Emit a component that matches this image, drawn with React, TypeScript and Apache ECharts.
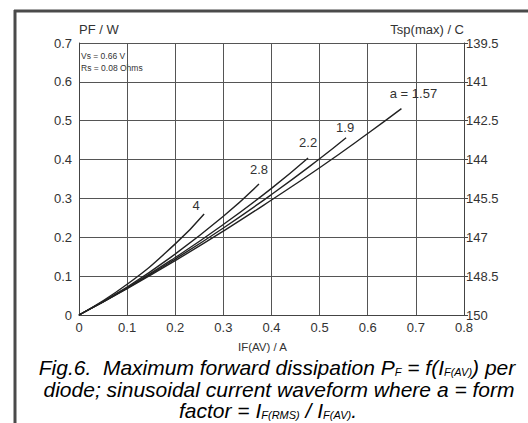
import React, { useEffect, useRef } from "react";
import * as echarts from "echarts";

// Forward current IF(AV) / A and dissipation PF / W for each form factor a
const formFactorLabels = ["a = 1.57", "1.9", "2.2", "2.8", "4"];

const if157 = [0, 0.1, 0.2, 0.3, 0.4, 0.5, 0.6, 0.67];
const pf157 = [0, 0.068, 0.14, 0.216, 0.296, 0.379, 0.467, 0.531];

const if19 = [0, 0.1, 0.2, 0.3, 0.4, 0.5, 0.555];
const pf19 = [0, 0.069, 0.144, 0.224, 0.31, 0.402, 0.456];

const if22 = [0, 0.1, 0.2, 0.3, 0.4, 0.476];
const pf22 = [0, 0.07, 0.148, 0.233, 0.326, 0.404];

const if28 = [0, 0.1, 0.2, 0.3, 0.374];
const pf28 = [0, 0.072, 0.157, 0.254, 0.337];

const if4 = [0, 0.1, 0.2, 0.26];
const pf4 = [0, 0.079, 0.183, 0.26];

// Axis ticks
const xTicks = { min: 0, max: 0.8, interval: 0.1 };
const yTicks = { min: 0, max: 0.7, interval: 0.1 };
const tspTicks = { min: 139.5, max: 150, interval: 1.5 };

const curves = [
  { x: if157, y: pf157, label: formFactorLabels[0], pos: [13, -8] },
  { x: if19, y: pf19, label: formFactorLabels[1], pos: [0, -3] },
  { x: if22, y: pf22, label: formFactorLabels[2], pos: [1, -8] },
  { x: if28, y: pf28, label: formFactorLabels[3], pos: [1, -7] },
  { x: if4, y: pf4, label: formFactorLabels[4], pos: [-7, -1] },
];

const TXT = "#333";
const FONT = "'Liberation Sans', Arial, Helvetica, sans-serif";

export default function App() {
  const ref = useRef<HTMLDivElement>(null);

  useEffect(() => {
    document.body.style.margin = "0";
    const chart = echarts.init(ref.current!, null, { renderer: "svg" });

    const series = curves.map((c) => ({
      type: "line",
      showSymbol: true,
      symbol: "circle",
      symbolSize: 1,
      itemStyle: { color: "transparent", borderColor: "transparent" },
      smooth: true,
      lineStyle: { color: "#222", width: 1.4 },
      labelLayout: { hideOverlap: false },
      data: c.x.map((xv, i) =>
        i === c.x.length - 1
          ? {
              value: [xv, c.y[i]],
              label: {
                show: true,
                position: c.pos,
                align: "center",
                verticalAlign: "bottom",
                formatter: c.label,
                color: TXT,
                fontSize: 13,
                fontFamily: FONT,
              },
            }
          : { value: [xv, c.y[i]], label: { show: false } }
      ),
    }));

    const subStyle = {
      fontSize: 11,
      fontStyle: "italic",
      fontFamily: FONT,
      color: TXT,
      lineHeight: 9,
      verticalAlign: "bottom",
    };
    const mainStyle = {
      fontSize: 21,
      fontStyle: "italic",
      fontFamily: FONT,
      color: TXT,
      lineHeight: 19,
    };

    chart.setOption({
      animation: false,
      backgroundColor: "#fff",
      textStyle: { fontFamily: FONT },
      grid: { left: 79, right: 64, top: 43, bottom: 108 },
      xAxis: {
        type: "value",
        ...xTicks,
        name: "IF(AV) / A",
        nameLocation: "middle",
        nameGap: 26,
        nameTextStyle: { color: TXT, fontSize: 11.5, padding: [0, 18, 0, 0] },
        axisLine: { show: true, lineStyle: { color: "#444", width: 1 } },
        axisTick: { show: false },
        axisLabel: { color: TXT, fontSize: 13, margin: 6 },
        splitLine: { show: true, lineStyle: { color: "#555", width: 1 } },
      },
      yAxis: [
        {
          type: "value",
          ...yTicks,
          name: "PF / W",
          nameLocation: "end",
          nameGap: 7,
          nameTextStyle: { color: TXT, fontSize: 13, align: "left" },
          axisLine: { show: true, lineStyle: { color: "#444", width: 1 } },
          axisTick: { show: false },
          axisLabel: { color: TXT, fontSize: 13, margin: 7 },
          splitLine: { show: true, lineStyle: { color: "#555", width: 1 } },
        },
        {
          type: "value",
          position: "right",
          inverse: true,
          ...tspTicks,
          name: "Tsp(max) / C",
          nameLocation: "start",
          nameGap: 7,
          nameTextStyle: { color: TXT, fontSize: 13, align: "right" },
          axisLine: { show: true, lineStyle: { color: "#444", width: 1 } },
          axisTick: { show: true, length: 4, lineStyle: { color: "#444" } },
          axisLabel: { color: TXT, fontSize: 13, margin: 2 },
          splitLine: { show: false },
        },
      ],
      series,
      graphic: [
        {
          type: "line",
          shape: { x1: 15, y1: 10, x2: 15, y2: 423 },
          style: { stroke: "#4a4a4a", lineWidth: 3 },
        },
        {
          type: "line",
          shape: { x1: 14, y1: 11, x2: 528, y2: 11 },
          style: { stroke: "#4a4a4a", lineWidth: 3 },
        },
        {
          type: "text",
          left: 81,
          top: 50,
          style: {
            text: "Vs = 0.66 V\nRs = 0.08 Ohms",
            fontSize: 8.5,
            lineHeight: 12,
            fontFamily: FONT,
            fill: TXT,
          },
        },
        {
          type: "text",
          x: 277,
          y: 367.5,
          style: {
            text: "{t|Fig.6.  Maximum forward dissipation P}{s|F}{t| = f(I}{s|F(AV)}{t|) per}",
            align: "center",
            verticalAlign: "middle",
            rich: { t: mainStyle, s: subStyle },
          },
        },
        {
          type: "text",
          x: 279,
          y: 389,
          style: {
            text: "{t|diode; sinusoidal current waveform where a = form}",
            align: "center",
            verticalAlign: "middle",
            rich: { t: mainStyle, s: subStyle },
          },
        },
        {
          type: "text",
          x: 268,
          y: 410.5,
          style: {
            text: "{t|factor = I}{s|F(RMS)}{t| / I}{s|F(AV)}{t|.}",
            align: "center",
            verticalAlign: "middle",
            rich: { t: mainStyle, s: subStyle },
          },
        },
      ],
    });

    return () => chart.dispose();
  }, []);

  return <div ref={ref} style={{ width: 528, height: 423 }} />;
}
